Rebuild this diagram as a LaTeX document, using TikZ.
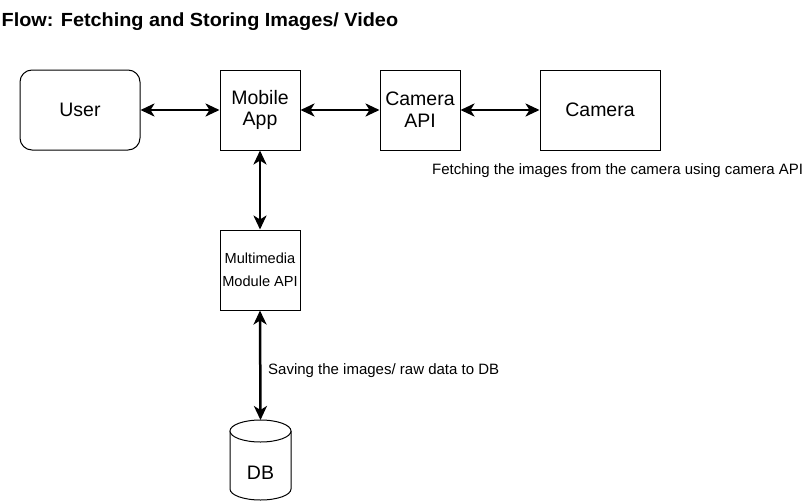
\documentclass[tikz,border=0pt]{standalone}
\usepackage{fontspec}
\setmainfont{Liberation Sans}
\newfontfamily\titlefont{Liberation Sans}[FakeStretch=1.045]
\usetikzlibrary{arrows.meta}
\begin{document}
\begin{tikzpicture}[x=1pt,y=-1pt,
  box/.style={draw,line width=1pt,minimum width=80pt,minimum height=80pt,inner sep=0pt,align=center,font=\fontsize{19.5}{21.7}\selectfont},
  conn/.style={line width=2.5pt,{Stealth[length=14pt,width=13pt,inset=4pt]}-{Stealth[length=14pt,width=13pt,inset=4pt]}},
  lbl/.style={font=\fontsize{15}{17}\selectfont,inner sep=0pt}]
\useasboundingbox (0,0) rectangle (803,501);
\node[anchor=base west,inner sep=0pt,font=\fontsize{19}{22}\titlefont\bfseries] (title) at (1.5,26.7) {Flow: Fetching and Storing Images/ Video};
\node[box,rounded corners=12pt,minimum width=120pt] (user) at (80,110) {User};
\node[box] (mobile) at (260,110) {Mobile\\App};
\node[box] (camapi) at (420,110) {Camera\\API};
\node[box,minimum width=120pt] (camera) at (600,110) {Camera};
\node[box,font=\fontsize{14.6}{23}\selectfont] (mm) at (260,270) {Multimedia\\Module API};
% database cylinder
\node[inner sep=0pt,minimum width=61pt,minimum height=80pt,anchor=north] (db) at (260.5,420) {};
\draw[line width=1pt,fill=white] (230,431) -- (230,489) arc[start angle=180,end angle=0,x radius=30.5,y radius=11] -- (291,431);
\draw[line width=1pt,fill=white] (260.5,431) ellipse[x radius=30.5,y radius=11];
\node[anchor=base,inner sep=0pt,font=\fontsize{19.5}{21}\selectfont] (dbtext) at (260.5,479) {DB};
\draw[conn] (user.east) -- (mobile.west);
\draw[conn] (mobile.east) -- (camapi.west);
\draw[conn] (camapi.east) -- (camera.west);
\draw[conn] (mobile.south) -- (mm.north);
\draw[conn] (mm.south) -- (db.north);
\node[lbl,anchor=west] (lcam) at (432,171) {Fetching the images from the camera using camera API};
\node[lbl,anchor=west] (ldb) at (268,371) {Saving the images/ raw data to DB};
\end{tikzpicture}
\end{document}
